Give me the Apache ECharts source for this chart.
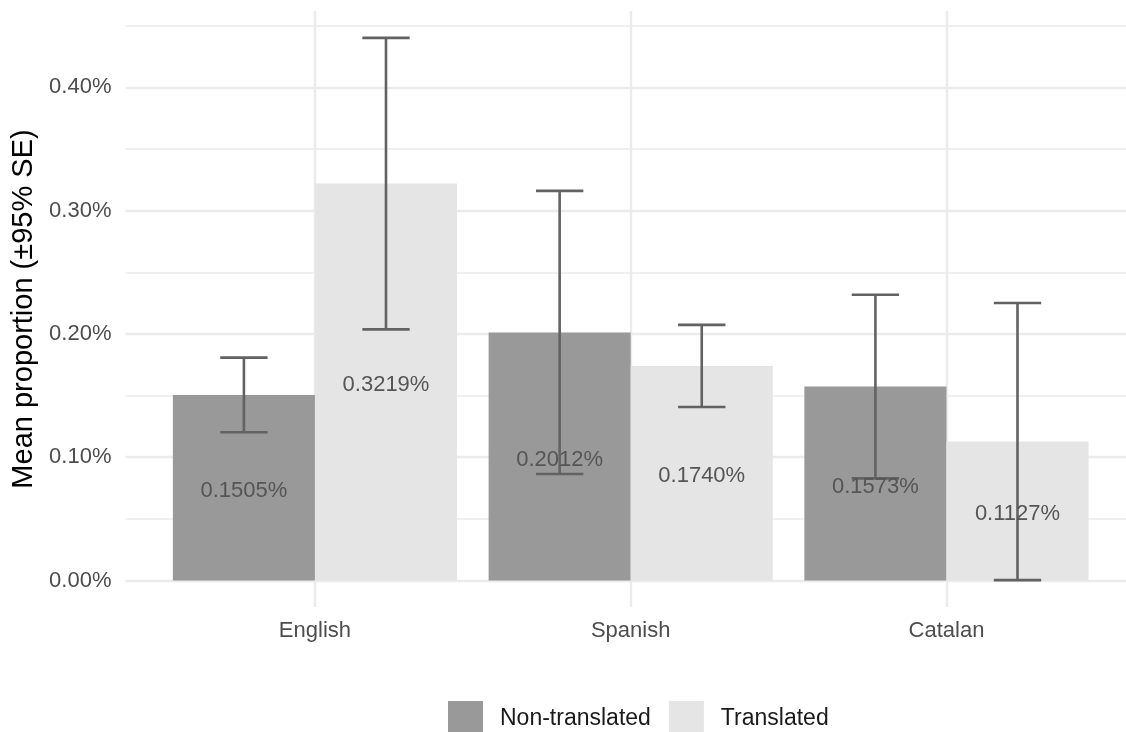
<!DOCTYPE html>
<html>
<head>
<meta charset="utf-8">
<script src="https://cdn.jsdelivr.net/npm/echarts@6/dist/echarts.min.js"></script>
<style>
  html, body { margin: 0; padding: 0; background: #ffffff; }
  #chart { width: 1126px; height: 732px; }
</style>
</head>
<body>
<div id="chart"></div>
<script>
// Mean proportion (in %) of each language, split by translation status
const categories = ['English', 'Spanish', 'Catalan'];
const groups = ['Non-translated', 'Translated'];
const nonTranslated = [0.1505, 0.2012, 0.1573];
const translated = [0.3219, 0.1740, 0.1127];
// half-width of the 95% interval around each mean (lower end floored at 0)
const nonTranslatedCI = [0.0303, 0.1148, 0.0745];
const translatedCI = [0.1182, 0.0333, 0.1124];
// axis ticks
const yMajorTicks = [0, 0.1, 0.2, 0.3, 0.4];
const yMinorTicks = [0.05, 0.15, 0.25, 0.35, 0.45];
const xTicks = [0, 1, 2];

const fillColors = ['#999999', '#e5e5e5'];
const dodge = 0.225;      // offset of each bar centre from its category
const barHalf = 0.225;    // half of bar width (in category units)
const capHalf = 0.075;    // half of error-bar cap width
const FONT = '"Liberation Sans", Arial, Helvetica, sans-serif';

const seriesMeans = [nonTranslated, translated];
const seriesCI = [nonTranslatedCI, translatedCI];
const offsets = [-dodge, dodge];

function barSeries(g) {
  return {
    name: groups[g],
    type: 'custom',
    itemStyle: { color: fillColors[g] },
    encode: { x: 0, y: 1 },
    data: seriesMeans[g].map((v, i) => [i + offsets[g], v]),
    renderItem: function (params, api) {
      const xc = api.value(0), v = api.value(1);
      const p0 = api.coord([xc - barHalf, v]);
      const p1 = api.coord([xc + barHalf, 0]);
      return {
        type: 'rect',
        shape: { x: p0[0], y: p0[1], width: p1[0] - p0[0], height: p1[1] - p0[1] },
        style: { fill: fillColors[g] }
      };
    },
    z: 2
  };
}

function errorSeries() {
  const rows = [];
  for (let g = 0; g < 2; g++) {
    seriesMeans[g].forEach((v, i) => {
      rows.push([i + offsets[g], Math.max(0, v - seriesCI[g][i]), v + seriesCI[g][i]]);
    });
  }
  return {
    type: 'custom',
    silent: true,
    encode: { x: 0, y: [1, 2] },
    data: rows,
    renderItem: function (params, api) {
      const xc = api.value(0);
      const lo = api.coord([xc, api.value(1)]);
      const hi = api.coord([xc, api.value(2)]);
      const half = api.size([capHalf, 0])[0];
      const style = { stroke: '#626262', lineWidth: 2.6 };
      return {
        type: 'group',
        children: [
          { type: 'line', shape: { x1: lo[0], y1: lo[1], x2: hi[0], y2: hi[1] }, style: style },
          { type: 'line', shape: { x1: hi[0] - half, y1: hi[1], x2: hi[0] + half, y2: hi[1] }, style: style },
          { type: 'line', shape: { x1: lo[0] - half, y1: lo[1], x2: lo[0] + half, y2: lo[1] }, style: style }
        ]
      };
    },
    z: 3
  };
}

function labelSeries() {
  const rows = [];
  for (let g = 0; g < 2; g++) {
    seriesMeans[g].forEach((v, i) => rows.push([i + offsets[g], v]));
  }
  return {
    type: 'custom',
    silent: true,
    encode: { x: 0, y: 1 },
    data: rows,
    renderItem: function (params, api) {
      const v = api.value(1);
      const p = api.coord([api.value(0), v / 2]);
      return {
        type: 'text',
        x: p[0], y: p[1] + 3,
        style: {
          text: v.toFixed(4) + '%',
          fill: '#555555',
          font: '22px ' + FONT,
          align: 'center',
          verticalAlign: 'middle'
        }
      };
    },
    z: 4
  };
}

const yMin = -0.0215, yMax = 0.4619;

const option = {
  backgroundColor: '#ffffff',
  animation: false,
  textStyle: { fontFamily: FONT },
  grid: {
    left: 125.5, width: 1010.4, top: 11, bottom: 125,
    containLabel: false,
    outerBoundsMode: 'none'
  },
  legend: {
    data: groups,
    left: 448,
    top: 701,
    padding: 0,
    orient: 'horizontal',
    icon: 'rect',
    itemWidth: 35,
    itemHeight: 35,
    itemGap: 18,
    selectedMode: false,
    textStyle: { fontSize: 23, color: '#1a1a1a', fontFamily: FONT, padding: [0, 0, 0, 12] }
  },
  xAxis: {
    type: 'value',
    min: -0.6,
    max: 2.6,
    axisLine: { show: false },
    axisTick: { show: false, customValues: xTicks },
    axisLabel: {
      customValues: xTicks,
      formatter: v => categories[Math.round(v)],
      fontSize: 22,
      color: '#4d4d4d',
      margin: 13,
      fontFamily: FONT
    },
    splitLine: { show: true, lineStyle: { color: '#ebebeb', width: 2.4 } }
  },
  yAxis: [
    {
      type: 'value',
      min: yMin,
      max: yMax,
      name: 'Mean proportion (±95% SE)',
      nameLocation: 'middle',
      nameGap: 86,
      nameRotate: 90,
      nameTextStyle: { fontSize: 29, color: '#000000', fontFamily: FONT },
      axisLine: { show: false },
      axisTick: { show: false, customValues: yMajorTicks },
      axisLabel: {
        customValues: yMajorTicks,
        formatter: v => v.toFixed(2) + '%',
        fontSize: 22,
        color: '#4d4d4d',
        margin: 14,
        padding: [4, 0, 0, 0],
        fontFamily: FONT
      },
      splitLine: { show: true, lineStyle: { color: '#ebebeb', width: 2.4 } }
    },
    {
      type: 'value',
      min: yMin,
      max: yMax,
      position: 'left',
      axisLine: { show: false },
      axisTick: { show: false, customValues: yMinorTicks },
      axisLabel: { show: false, customValues: yMinorTicks },
      splitLine: { show: true, lineStyle: { color: '#f0f0f0', width: 2 } }
    }
  ],
  series: [barSeries(0), barSeries(1), errorSeries(), labelSeries()]
};

const chart = echarts.init(document.getElementById('chart'), null, { renderer: 'canvas' });
chart.setOption(option);
</script>
</body>
</html>
